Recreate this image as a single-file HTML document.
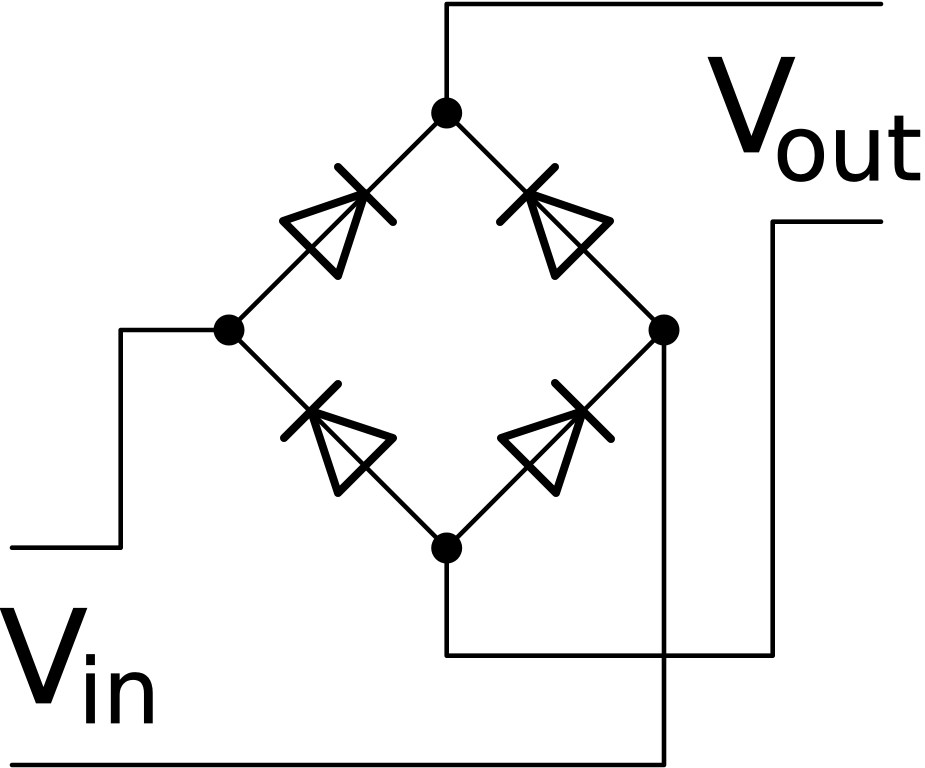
<!DOCTYPE html>
<html>
<head>
<meta charset="utf-8">
<style>
html,body{margin:0;padding:0;background:#fff;width:925px;height:768px;overflow:hidden}
svg{display:block}
text{font-family:"DejaVu Sans",sans-serif;fill:#000;stroke:#000;stroke-width:0.7}
</style>
</head>
<body>
<svg width="925" height="768" viewBox="0 0 925 768" xmlns="http://www.w3.org/2000/svg">
<g fill="none" stroke="#000" stroke-width="4.6" stroke-linecap="round" stroke-linejoin="round">
<path d="M881 4H446.7V113"/>
<path d="M881 221.7H772.7V655.7H446.7V548"/>
<path d="M229 330H120.7V547.7H12"/>
<path d="M664 330V765H12"/>
<path d="M446.7 113L229 330L446.7 548L664 330Z"/>
</g>
<g fill="none" stroke="#000" stroke-width="8" stroke-linecap="round" stroke-linejoin="round">
<path d="M338 167L393 222"/>
<path d="M365 193L283 221L338 276Z"/>
<path d="M555 167L500 222"/>
<path d="M528 193L610 221L555 276Z"/>
<path d="M284 438L338 384"/>
<path d="M311 411L393 438L338 493Z"/>
<path d="M555 383L611 439"/>
<path d="M583 411L501 438L556 493Z"/>
</g>
<g fill="#000">
<circle cx="446.7" cy="113" r="15.5"/>
<circle cx="229" cy="330" r="15.5"/>
<circle cx="664" cy="330" r="15.5"/>
<circle cx="446.7" cy="548" r="15.5"/>
</g>
<text x="707" y="152" font-size="130">V</text>
<text x="773" y="180" font-size="91">out</text>
<text x="-1" y="703" font-size="130">V</text>
<text x="78" y="723" font-size="90">in</text>
</svg>
</body>
</html>
